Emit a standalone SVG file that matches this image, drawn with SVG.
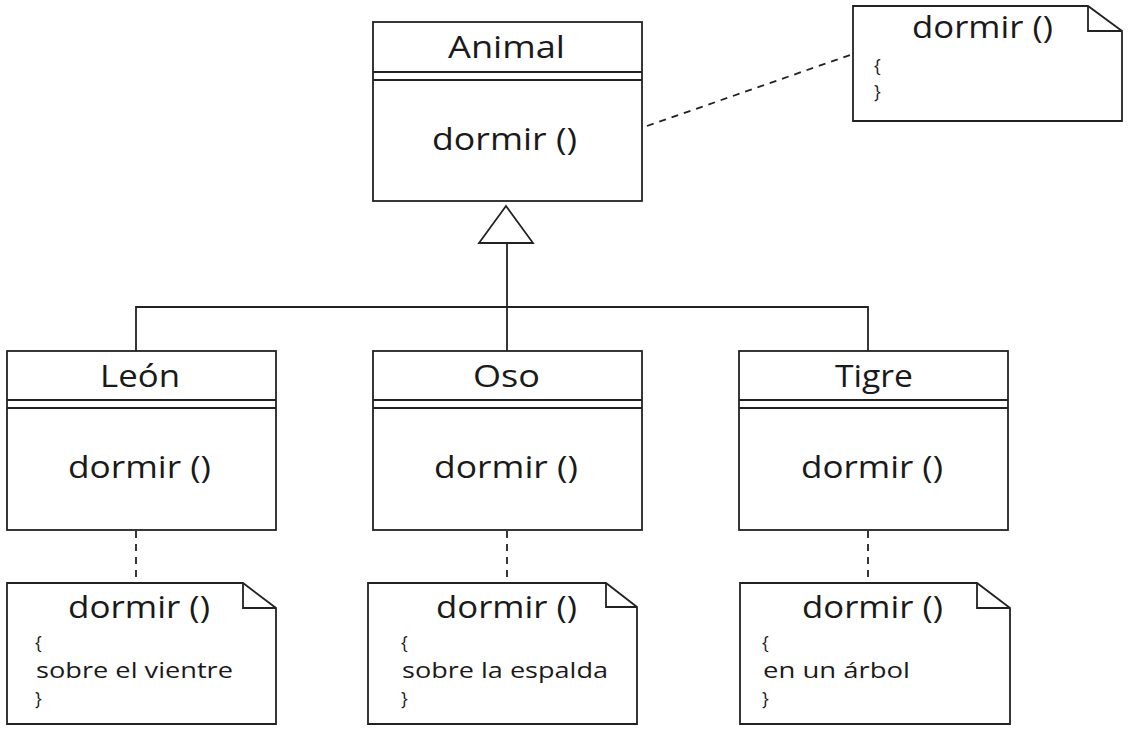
<svg xmlns="http://www.w3.org/2000/svg" width="1134" height="732" viewBox="0 0 1134 732">
<style>
.box{fill:#fff;stroke:#222;stroke-width:1.8}
.ln{fill:none;stroke:#222;stroke-width:1.8}
.dash{fill:none;stroke:#222;stroke-width:1.8;stroke-dasharray:7 6}
.t{font-family:"Open Sans","Liberation Sans",sans-serif;font-size:31px;fill:#1a1a1a}
.b{font-family:"Open Sans","Liberation Sans",sans-serif;font-size:21px;fill:#1a1a1a}
.br{font-family:"Open Sans","Liberation Sans",sans-serif;font-size:18px;fill:#1a1a1a}
</style>
<rect width="1134" height="732" fill="#fff"/>
<g id="connectors">
<path class="ln" d="M136 351V307H868V351M507 351V243"/>
<path class="box" d="M506 206L479 243H533Z"/>
<path class="dash" d="M647 126L853 54"/>
<path class="dash" d="M136 531V583"/>
<path class="dash" d="M507 531V583"/>
<path class="dash" d="M868 531V583"/>
</g>
<g id="animal">
<rect class="box" x="373" y="22" width="269" height="179"/>
<path class="ln" d="M373 72H642M373 80H642"/>
<text class="t" x="448" y="58" textLength="117" lengthAdjust="spacingAndGlyphs">Animal</text>
<text class="t" x="432" y="150" textLength="145" lengthAdjust="spacingAndGlyphs">dormir ()</text>
</g>
<g id="note-animal">
<path class="box" d="M853 6H1088L1122 31V121H853Z"/>
<path class="ln" d="M1088 6V31H1122"/>
<text class="t" x="912" y="38" textLength="141" lengthAdjust="spacingAndGlyphs">dormir ()</text>
<text class="br" x="874" y="72">{</text>
<text class="br" x="874" y="98">}</text>
</g>
<g id="leon">
<rect class="box" x="7" y="351" width="269" height="179"/>
<path class="ln" d="M7 400H276M7 408H276"/>
<text class="t" x="100" y="387" textLength="80" lengthAdjust="spacingAndGlyphs">León</text>
<text class="t" x="68" y="478" textLength="143" lengthAdjust="spacingAndGlyphs">dormir ()</text>
</g>
<g id="oso">
<rect class="box" x="373" y="351" width="269" height="179"/>
<path class="ln" d="M373 400H642M373 408H642"/>
<text class="t" x="473" y="387" textLength="67" lengthAdjust="spacingAndGlyphs">Oso</text>
<text class="t" x="434" y="478" textLength="144" lengthAdjust="spacingAndGlyphs">dormir ()</text>
</g>
<g id="tigre">
<rect class="box" x="739" y="351" width="269" height="179"/>
<path class="ln" d="M739 400H1008M739 408H1008"/>
<text class="t" x="835" y="387" textLength="78" lengthAdjust="spacingAndGlyphs">Tigre</text>
<text class="t" x="801" y="478" textLength="142" lengthAdjust="spacingAndGlyphs">dormir ()</text>
</g>
<g id="note-leon">
<path class="box" d="M7 583H243L276 608V724H7Z"/>
<path class="ln" d="M243 583V608H276"/>
<text class="t" x="68" y="618" textLength="142" lengthAdjust="spacingAndGlyphs">dormir ()</text>
<text class="br" x="35" y="649">{</text>
<text class="b" x="36" y="678" textLength="197" lengthAdjust="spacingAndGlyphs">sobre el vientre</text>
<text class="br" x="35" y="705">}</text>
</g>
<g id="note-oso">
<path class="box" d="M368 583H606L637 607V724H368Z"/>
<path class="ln" d="M606 583V607H637"/>
<text class="t" x="436" y="618" textLength="141" lengthAdjust="spacingAndGlyphs">dormir ()</text>
<text class="br" x="401" y="649">{</text>
<text class="b" x="402" y="678" textLength="206" lengthAdjust="spacingAndGlyphs">sobre la espalda</text>
<text class="br" x="401" y="705">}</text>
</g>
<g id="note-tigre">
<path class="box" d="M740 583H977L1010 608V724H740Z"/>
<path class="ln" d="M977 583V608H1010"/>
<text class="t" x="802" y="618" textLength="141" lengthAdjust="spacingAndGlyphs">dormir ()</text>
<text class="br" x="762" y="649">{</text>
<text class="b" x="763" y="678" textLength="147" lengthAdjust="spacingAndGlyphs">en un árbol</text>
<text class="br" x="762" y="705">}</text>
</g>
</svg>
